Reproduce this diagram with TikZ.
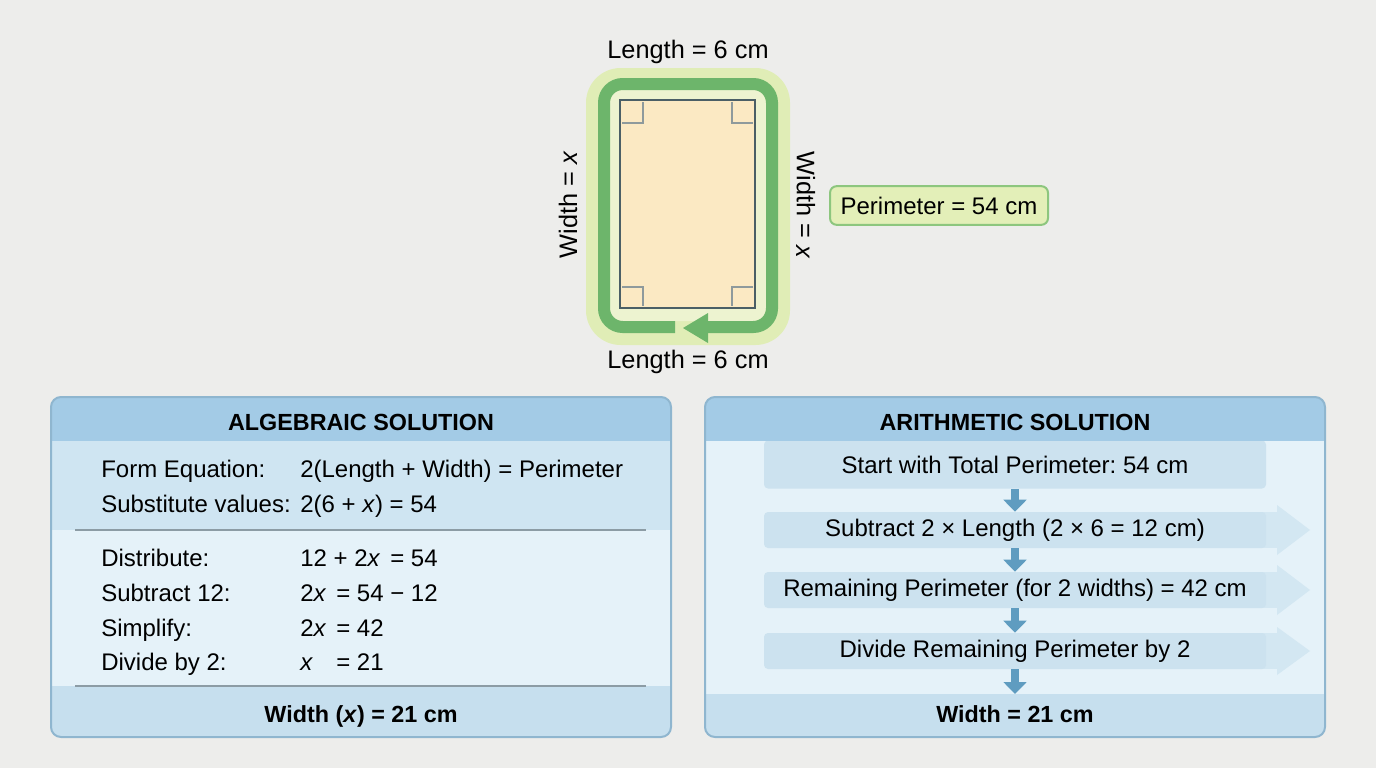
\documentclass[tikz,border=0pt]{standalone}
\usepackage{fontspec}
\setmainfont{Liberation Sans}
\usetikzlibrary{arrows.meta}
\frenchspacing
\definecolor{bg}{HTML}{EDEDEB}
\definecolor{glow}{HTML}{E0EDB6}
\definecolor{innerglow}{HTML}{EDF3D0}
\definecolor{gline}{HTML}{6DB56B}
\definecolor{rectfill}{HTML}{FBE9C3}
\definecolor{rectline}{HTML}{4B5F66}
\definecolor{markline}{HTML}{8E9A9C}
\definecolor{perfill}{HTML}{E3EFB8}
\definecolor{perline}{HTML}{8DC67E}
\definecolor{hdr}{HTML}{A3CBE6}
\definecolor{upper}{HTML}{CFE5F2}
\definecolor{lower}{HTML}{E5F2F9}
\definecolor{band}{HTML}{C6DFEE}
\definecolor{pborder}{HTML}{8FB6CF}
\definecolor{sepline}{HTML}{8C9CA5}
\definecolor{stepfill}{HTML}{CCE2EF}
\definecolor{arrfill}{HTML}{D3E7F2}
\definecolor{darr}{HTML}{5F9CC0}
\newcommand\bodyfs{\fontsize{18}{21}\selectfont}
\newcommand\lblfs{\fontsize{19}{22}\selectfont}
\newcommand\ttlfs{\fontsize{17.5}{21}\selectfont\bfseries}
\tikzset{
  lbl/.style={inner sep=0pt, font=\lblfs},
  row/.style={inner sep=0pt, anchor=base west, font=\bodyfs},
  ttl/.style={inner sep=0pt, anchor=base, font=\ttlfs},
  stepbox/.style={fill=stepfill, rounded corners=3pt, minimum width=376.5pt, inner sep=0pt, font=\bodyfs},
  downarrow/.style={draw=darr, line width=6pt, -{Triangle[width=17pt,length=9pt]}},
  panelborder/.style={draw=pborder, line width=1.5pt, rounded corners=7.5pt},
  sepln/.style={draw=sepline, line width=1pt},
  anglemark/.style={draw=markline, line width=0.8pt}
}
\begin{document}
\begin{tikzpicture}[x=0.75pt,y=-0.75pt]
\useasboundingbox (0,0) rectangle (1376,768);
\fill[bg] (0,0) rectangle (1376,768);

% ---------- rectangle figure ----------
\fill[glow, rounded corners=26pt] (586,68) rectangle (790,345);
\fill[innerglow, rounded corners=9pt] (610,90) rectangle (766,321);
\draw[gline, line width=9pt, rounded corners=14pt] (675,327) -- (604,327) -- (604,84) -- (772,84) -- (772,327) -- (704,327);
\fill[gline] (683,328) -- (708,313) -- (708,343) -- cycle;
\node[draw=rectline, line width=2.2pt, fill=rectfill, minimum width=101.25pt, minimum height=156pt, inner sep=0pt] (rect) at (687.5,204) {};
\draw[anglemark] (622,123) -- (643,123) -- (643,102);
\draw[anglemark] (753,123) -- (732,123) -- (732,102);
\draw[anglemark] (622,287) -- (643,287) -- (643,306);
\draw[anglemark] (753,287) -- (732,287) -- (732,306);

\node[lbl, anchor=base] (ltop) at (688,58) {Length = 6 cm};
\node[lbl, anchor=base] (lbot) at (688,368) {Length = 6 cm};
\node[lbl, rotate=90] (wl) at (568,205) {Width = \textit{x}};
\node[lbl, rotate=-90] (wr) at (806,205) {Width = \textit{x}};

\node[draw=perline, line width=1.5pt, fill=perfill, rounded corners=5pt, minimum width=163.5pt, minimum height=29pt, inner sep=0pt, font=\bodyfs] (per) at (939,205.5) {Perimeter = 54 cm};

% ---------- algebraic panel ----------
\begin{scope}
\clip[rounded corners=7.5pt] (51,397) rectangle (671,737);
\fill[hdr] (51,397) rectangle (671,441);
\fill[upper] (51,441) rectangle (671,530);
\fill[lower] (51,530) rectangle (671,686);
\fill[band] (51,686) rectangle (671,737);
\end{scope}
\draw[panelborder] (51,397) rectangle (671,737);
\draw[sepln] (75,530) -- (646,530);
\draw[sepln] (75,686) -- (646,686);
\node[ttl] (at) at (361,430) {ALGEBRAIC SOLUTION};
\node[row] (a1) at (101,477) {Form Equation:};
\node[row] (a1v) at (300,477) {2(Length + Width) = Perimeter};
\node[row] (a2) at (101,512) {Substitute values:};
\node[row] (a2v) at (300,512) {2(6 + \textit{x}) = 54};
\node[row] (a3) at (101,566) {Distribute:};
\node[row] (a3v) at (300,566) {12 + 2\textit{x}};
\node[row] (a3e) at (390,566) {= 54};
\node[row] (a4) at (101,601) {Subtract 12:};
\node[row] (a4v) at (300,601) {2\textit{x}};
\node[row] (a4e) at (336,601) {= 54 − 12};
\node[row] (a5) at (101,636) {Simplify:};
\node[row] (a5v) at (300,636) {2\textit{x}};
\node[row] (a5e) at (336,636) {= 42};
\node[row] (a6) at (101,670) {Divide by 2:};
\node[row] (a6v) at (300,670) {\textit{x}};
\node[row] (a6e) at (336,670) {= 21};
\node[ttl] (ares) at (361,722) {Width (\textit{x}) = 21 cm};

% ---------- arithmetic panel ----------
\begin{scope}
\clip[rounded corners=7.5pt] (705,397) rectangle (1325,737);
\fill[lower] (705,397) rectangle (1325,737);
\fill[band] (705,694) rectangle (1325,737);
\end{scope}
% step arrowheads
\fill[arrfill] (1258,512) rectangle (1279,548);
\fill[arrfill] (1277,505) -- (1310,530) -- (1277,555) -- cycle;
\fill[arrfill] (1258,572) rectangle (1279,608);
\fill[arrfill] (1277,565) -- (1310,590) -- (1277,615) -- cycle;
\fill[arrfill] (1258,633) rectangle (1279,669);
\fill[arrfill] (1277,627) -- (1310,651) -- (1277,675) -- cycle;
\node[stepbox, minimum height=36pt] (s1) at (1015,464.5) {\raisebox{-3.5pt}{Start with Total Perimeter: 54 cm}};
\node[stepbox, minimum height=27pt] (s2) at (1015,530) {Subtract 2 × Length (2 × 6 = 12 cm)};
\node[stepbox, minimum height=27pt] (s3) at (1015,590) {Remaining Perimeter (for 2 widths) = 42 cm};
\node[stepbox, minimum height=27pt] (s4) at (1015,651) {Divide Remaining Perimeter by 2};
\begin{scope}
\clip[rounded corners=7.5pt] (705,397) rectangle (1325,737);
\fill[hdr] (705,397) rectangle (1325,441);
\end{scope}
\draw[panelborder] (705,397) rectangle (1325,737);
\node[ttl] (rt) at (1015,430) {ARITHMETIC SOLUTION};
\coordinate (bandtop) at (1015,694);
\draw[downarrow] (s1.south) -- (s2.north);
\draw[downarrow] (s2.south) -- (s3.north);
\draw[downarrow] (s3.south) -- (s4.north);
\draw[downarrow] (s4.south) -- (bandtop);
\node[ttl] (rres) at (1015,722) {Width = 21 cm};
\end{tikzpicture}
\end{document}
